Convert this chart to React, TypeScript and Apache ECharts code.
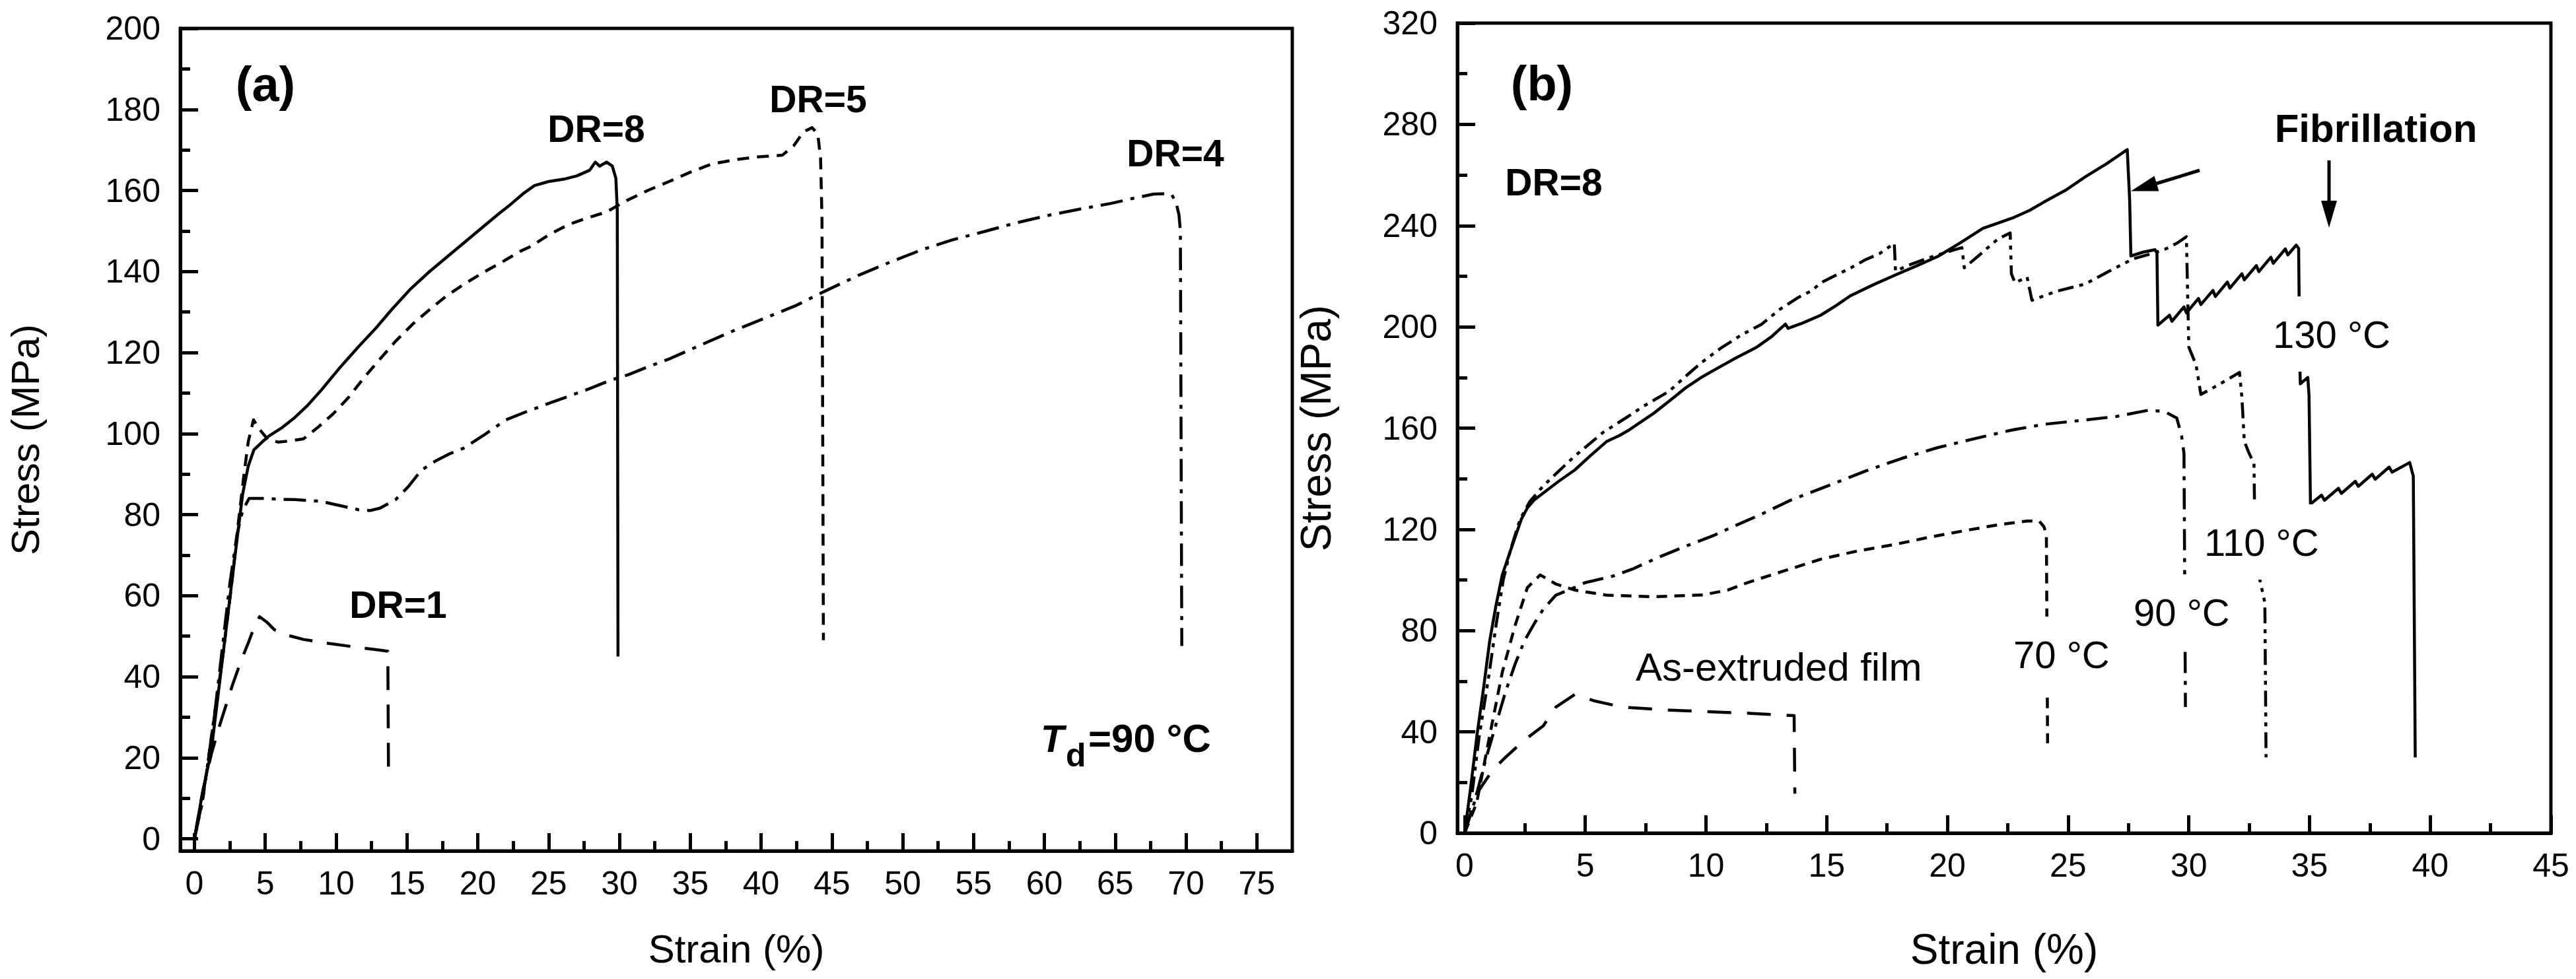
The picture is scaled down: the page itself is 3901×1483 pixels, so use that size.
import React, { useEffect, useRef } from "react";
import * as echarts from "echarts";

// ---------- Panel (a): Td = 90 °C, different draw ratios ----------
const aDR8Strain = [0, 0.5, 1.2, 2.07, 2.8, 3.4, 3.8, 4.2, 4.8, 5.3, 6.2, 7.1, 8.0, 8.9, 10.2, 11.6, 12.8, 13.9, 15.2, 16.6, 17.8, 19.0, 20.2, 21.4, 22.4, 23.2, 24.0, 25.0, 26.1, 27.0, 27.9, 28.3, 28.6, 29.1, 29.5, 29.75, 29.85, 29.9];
const aDR8Stress = [0, 10, 22, 47, 68, 85, 92, 96, 98, 99.5, 101.5, 104, 107, 110.5, 116, 121.5, 126, 130.5, 135.5, 140, 143.5, 147, 150.5, 154, 156.8, 159.2, 161.2, 162.2, 162.8, 163.6, 165, 167, 166, 167, 166, 163, 155, 45];

const aDR5Strain = [0, 0.6, 1.4, 2.0, 2.6, 3.1, 3.5, 3.8, 4.17, 4.6, 5.2, 5.9, 6.8, 7.7, 8.7, 9.8, 10.9, 11.9, 13.0, 14.2, 15.4, 16.6, 17.8, 19.0, 20.4, 21.7, 23.0, 23.75, 25.0, 26.4, 27.8, 29.1, 30.5, 32.0, 33.5, 35.0, 36.5, 38.0, 39.5, 41.5, 42.3, 43.0, 43.6, 44.0, 44.2, 44.3, 44.4];
const aDR5Stress = [0, 10, 30, 45, 62, 78, 90, 98, 103.4, 101, 98.5, 97.9, 98.2, 98.7, 101.5, 104.9, 109, 113.5, 118, 122.8, 127, 130.6, 134, 136.8, 139.8, 142.3, 145, 146.2, 149, 151.6, 153.3, 154.7, 157.5, 160, 162.2, 164.5, 166.5, 167.5, 168.2, 168.7, 171, 174.5, 175.5, 174, 168, 153, 49];

const aDR4Strain = [0, 0.5, 1.0, 1.5, 2.0, 2.5, 3.0, 3.4, 3.86, 5.0, 6.0, 7.1, 8.9, 10.3, 11.6, 12.4, 13.1, 14.2, 15.1, 16.0, 17.0, 18.0, 19.0, 20.5, 22.0, 23.5, 24.9, 26.4, 27.9, 29.4, 30.6, 32.1, 33.5, 35.7, 38.0, 40.2, 42.4, 44.6, 46.9, 49.1, 51.3, 53.5, 55.8, 58.0, 60.2, 62.5, 64.7, 66.2, 67.7, 68.5, 69.0, 69.3, 69.5, 69.6, 69.7];
const aDR4Stress = [0, 8, 20, 33, 48, 63, 75, 81, 84, 84, 83.8, 83.7, 83.3, 82.2, 81.2, 81, 81.6, 83.7, 86.9, 90.9, 93.2, 95, 96.4, 99.8, 103.4, 105.5, 107.3, 109.2, 111.1, 113.2, 114.5, 116.6, 118.4, 121.8, 125.3, 128.4, 131.5, 135.3, 139.1, 142.3, 145.3, 147.8, 149.9, 152, 153.8, 155.4, 156.8, 158, 159.1, 159.2, 158.9, 157, 154, 150, 47.6];

const aDR1Strain = [0, 0.6, 1.2, 1.78, 2.67, 3.3, 3.85, 4.3, 4.6, 5.1, 5.64, 6.6, 7.7, 9.5, 11.6, 12.8, 13.65, 13.7];
const aDR1Stress = [0, 12, 21, 28, 37.8, 44, 48.8, 53, 54.8, 53.5, 51.6, 50.2, 49.2, 48.2, 47.2, 46.7, 46.3, 15.4];

// ---------- Panel (b): DR = 8, different drawing temperatures ----------
const b130Strain = [0, 0.25, 0.51, 0.78, 1.04, 1.3, 1.56, 1.95, 2.35, 2.6, 2.87, 3.26, 3.9, 4.57, 5.2, 5.88, 6.4, 6.82, 7.84, 8.65, 9.14, 9.8, 10.48, 11.2, 12.07, 12.7, 13.29, 13.4, 14.0, 14.75, 15.4, 15.97, 16.9, 17.8, 18.7, 19.6, 20.5, 21.47, 22.1, 22.7, 23.4, 24.0, 24.9, 25.7, 26.6, 27.45, 27.55, 27.6, 28.1, 28.6, 28.68, 28.72,
  29.2, 29.3, 29.8, 29.9, 30.4, 30.5, 31.0, 31.1, 31.6, 31.7, 32.2, 32.3, 32.8, 32.9, 33.4, 33.5, 34.0, 34.1, 34.45, 34.55, 34.57, 34.6, 34.62, 34.93, 34.98, 35.04,
  35.5, 35.62, 36.2, 36.32, 36.9, 37.02, 37.6, 37.72, 38.3, 38.42, 39.15, 39.3, 39.38];
const b130Stress = [0, 18, 38.6, 57, 76, 90, 102, 113, 124, 128.5, 131.5, 134.4, 139, 143.5, 149, 154.7, 157, 159.3, 165.9, 172, 175.8, 180, 183.7, 187.5, 191.8, 196, 201.1, 199.4, 201.5, 204.6, 208.5, 212.2, 216.5, 220.3, 224, 227.8, 233, 238.9, 241, 243, 246, 249.3, 254, 259.2, 264.5, 270, 250, 228, 229.5, 230.5, 229.3, 200.7,
  204.6, 202.2, 207.9, 205.5, 211.2, 208.8, 214.4, 212, 217.7, 215.3, 221, 218.6, 224.2, 221.8, 227.5, 225.1, 230.8, 228.4, 232.3, 231, 211.5, 184.5, 177.5, 180, 172.8, 130,
  133.5, 131.5, 136.2, 134.2, 139, 137, 141.8, 139.8, 144.6, 142.6, 146.4, 141, 29.9];

const b110Strain = [0, 0.3, 0.6, 1.0, 1.3, 1.6, 1.9, 2.3, 2.7, 3.26, 3.9, 4.57, 5.2, 5.75, 6.79, 7.4, 8.48, 9.1, 9.8, 10.6, 11.5, 12.3, 13.07, 13.8, 14.4, 14.75, 15.4, 16.0, 16.6, 17.2, 17.8, 17.85, 18.4, 19.3, 20.2, 20.6, 20.7, 21.4, 22.1, 22.6, 22.65, 22.8, 23.3, 23.5, 24.5, 25.7, 26.7, 27.7, 28.3, 29.0, 29.5, 29.9, 30.0, 30.3, 30.5, 31.3, 32.1, 32.2, 32.3, 32.5, 32.7, 32.72, 32.9, 33.15, 33.2];
const b110Stress = [0, 15, 38, 62, 82, 100, 112, 124, 131, 137.2, 143, 149, 154, 158.4, 164.7, 168.6, 174.6, 180, 185.8, 191.5, 197, 201, 207, 211.5, 214.4, 217.4, 220.5, 223.3, 226.5, 229, 233, 222, 224.4, 227.5, 230.2, 231.3, 223.3, 229, 234.8, 237.1, 221, 217.4, 219.7, 210.5, 214, 216.9, 222, 226.9, 228.5, 230.6, 233, 235.6, 192, 185, 173.3, 177.5, 182, 172, 154.7, 150, 146, 131, 102, 91, 29.9];

const b90Strain = [0, 0.4, 0.9, 1.3, 1.7, 2.1, 2.48, 2.9, 3.26, 3.78, 4.57, 4.98, 6.13, 7.0, 8.04, 9.2, 10.3, 11.1, 12.3, 13.5, 15.0, 16.6, 18.1, 19.6, 21.2, 22.7, 24.1, 25.5, 27.0, 28.35, 29.0, 29.5, 29.7, 29.8, 29.86];
const b90Stress = [0, 12, 30, 43, 56, 67, 76, 83, 88.5, 94, 97.1, 98.9, 101.5, 104.5, 109, 113.5, 117.5, 121, 126, 131.5, 137, 143, 148, 152.3, 156, 159.3, 161.6, 163, 164.6, 167.1, 166.5, 164, 157, 150, 49.8];

const b70Strain = [0, 0.5, 1.04, 1.56, 2.09, 2.6, 3.13, 3.5, 3.78, 4.57, 5.88, 7.84, 9.87, 10.9, 11.7, 13.2, 14.75, 16.3, 17.8, 19.3, 20.9, 22.1, 23.3, 23.8, 24.0, 24.1, 24.15];
const b70Stress = [0, 12, 38.6, 63.5, 82, 97, 102, 100, 98.4, 96, 94, 93.4, 94.1, 96, 98.9, 103.5, 108.2, 111.5, 114, 117, 119.8, 121.8, 123.3, 123.3, 121, 118, 35.5];

const bExtStrain = [0, 0.5, 1.17, 1.7, 2.47, 3.26, 3.78, 4.57, 5.35, 6.53, 8.5, 10.2, 11.9, 13.65, 13.68];
const bExtStress = [0, 15.6, 25, 30, 36.7, 42.4, 49.8, 54.8, 52.3, 49.8, 48.6, 47.9, 47.3, 46.4, 15.6];

// ---------- Tick labels ----------
const aStrainTicks = [0, 5, 10, 15, 20, 25, 30, 35, 40, 45, 50, 55, 60, 65, 70, 75];
const aStrainMinor = [2.5, 7.5, 12.5, 17.5, 22.5, 27.5, 32.5, 37.5, 42.5, 47.5, 52.5, 57.5, 62.5, 67.5, 72.5];
const aStressTicks = [0, 20, 40, 60, 80, 100, 120, 140, 160, 180, 200];
const aStressMinor = [10, 30, 50, 70, 90, 110, 130, 150, 170, 190];
const bStrainTicks = [0, 5, 10, 15, 20, 25, 30, 35, 40, 45];
const bStrainMinor = [2.5, 7.5, 12.5, 17.5, 22.5, 27.5, 32.5, 37.5, 42.5];
const bStressTicks = [0, 40, 80, 120, 160, 200, 240, 280, 320];
const bStressMinor = [20, 60, 100, 140, 180, 220, 260, 300];

const FONT = '"Liberation Sans", Arial, Helvetica, sans-serif';

function pairs(xs: number[], ys: number[]) {
  return xs.map((x, i) => [x, ys[i]]);
}

function axis(dim: "x" | "y", gridIndex: number, min: number, max: number, ticks: number[], major: boolean, extra: any = {}) {
  return {
    type: "value",
    gridIndex,
    min,
    max,
    position: dim === "x" ? "bottom" : "left",
    axisLine: { show: major, onZero: false, lineStyle: { color: "#000", width: 5 } },
    axisTick: {
      show: true,
      inside: true,
      length: major ? 27 : 15,
      customValues: ticks,
      lineStyle: { color: "#000", width: 5 },
    },
    axisLabel: major
      ? { show: true, customValues: ticks, color: "#000", fontSize: 50, fontFamily: FONT, margin: dim === "x" ? 24 : 30 }
      : { show: false },
    splitLine: { show: false },
    minorTick: { show: false },
    ...extra,
  };
}

function line(data: number[][], xi: number, yi: number, type: any) {
  return {
    type: "line",
    xAxisIndex: xi,
    yAxisIndex: yi,
    data,
    showSymbol: false,
    symbol: "none",
    silent: true,
    z: 3,
    lineStyle: { color: "#000", width: 4.5, type, cap: "butt", join: "round" },
  };
}

function txt(text: string, x: number, y: number, size: number, opts: any = {}) {
  return {
    type: "text",
    x,
    y,
    z: 100,
    style: {
      text,
      fill: "#000",
      fontSize: size,
      fontFamily: FONT,
      fontWeight: opts.bold ? "bold" : "normal",
      fontStyle: opts.italic ? "italic" : "normal",
      align: opts.align || "center",
      verticalAlign: "middle",
      ...(opts.bg ? { backgroundColor: "#fff", padding: [28, 4] } : {}),
    },
  };
}

export default function App() {
  const ref = useRef<HTMLDivElement>(null);
  useEffect(() => {
    document.body.style.margin = "0";
    const chart = echarts.init(ref.current!, undefined, { renderer: "svg" });
    const option: any = {
      animation: false,
      backgroundColor: "#fff",
      textStyle: { fontFamily: FONT, color: "#000" },
      grid: [
        { left: 273, top: 43, width: 1684, height: 1246, show: true, borderColor: "#000", borderWidth: 5, backgroundColor: "transparent" },
        { left: 2207, top: 35, width: 1656, height: 1227, show: true, borderColor: "#000", borderWidth: 5, backgroundColor: "transparent" },
      ],
      xAxis: [
        axis("x", 0, -1, 77.5, aStrainTicks, true, {
          name: "Strain (%)", nameLocation: "middle", nameGap: 118,
          nameTextStyle: { fontSize: 60, color: "#000", fontFamily: FONT },
        }),
        axis("x", 0, -1, 77.5, aStrainMinor, false),
        axis("x", 1, -0.3, 45, bStrainTicks, true, {
          name: "Strain (%)", nameLocation: "middle", nameGap: 144,
          nameTextStyle: { fontSize: 64, color: "#000", fontFamily: FONT },
        }),
        axis("x", 1, -0.3, 45, bStrainMinor, false),
      ],
      yAxis: [
        axis("y", 0, -3, 200, aStressTicks, true, {
          name: "Stress (MPa)", nameLocation: "middle", nameGap: 205,
          nameTextStyle: { fontSize: 60, color: "#000", fontFamily: FONT },
        }),
        axis("y", 0, -3, 200, aStressMinor, false),
        axis("y", 1, 0, 320, bStressTicks, true, {
          name: "Stress (MPa)", nameLocation: "middle", nameGap: 182,
          nameTextStyle: { fontSize: 64, color: "#000", fontFamily: FONT },
        }),
        axis("y", 1, 0, 320, bStressMinor, false),
      ],
      series: [
        line(pairs(aDR8Strain, aDR8Stress), 0, 0, "solid"),
        line(pairs(aDR5Strain, aDR5Stress), 0, 0, [18, 12]),
        line(pairs(aDR4Strain, aDR4Stress), 0, 0, [34, 12, 6, 12]),
        line(pairs(aDR1Strain, aDR1Stress), 0, 0, [36, 22]),
        line(pairs(b130Strain, b130Stress), 2, 2, "solid"),
        line(pairs(b110Strain, b110Stress), 2, 2, [24, 9, 6, 9, 6, 9]),
        line(pairs(b90Strain, b90Stress), 2, 2, [32, 12, 6, 12]),
        line(pairs(b70Strain, b70Stress), 2, 2, [16, 11]),
        line(pairs(bExtStrain, bExtStress), 2, 2, [36, 24]),
      ],
      graphic: [
        // panel (a)
        txt("(a)", 402, 127, 74, { bold: true }),
        txt("DR=8", 903, 195, 57, { bold: true }),
        txt("DR=5", 1239, 150, 57, { bold: true }),
        txt("DR=4", 1780, 232, 57, { bold: true }),
        txt("DR=1", 603, 916, 57, { bold: true }),
        txt("T", 1576, 1118, 58, { bold: true, italic: true, align: "left" }),
        txt("d", 1614, 1144, 50, { bold: true, align: "left" }),
        txt("=90 °C", 1648, 1118, 60, { bold: true, align: "left" }),
        // panel (b)
        txt("(b)", 2335, 126, 74, { bold: true }),
        txt("DR=8", 2353, 276, 57, { bold: true }),
        txt("Fibrillation", 3598, 194, 60, { bold: true }),
        txt("130 °C", 3438, 506, 58, { align: "left", bg: true }),
        txt("110 °C", 3334, 821, 58, { align: "left", bg: true }),
        txt("90 °C", 3227, 927, 58, { align: "left", bg: true }),
        txt("70 °C", 3045, 991, 58, { align: "left", bg: true }),
        txt("As-extruded film", 2477, 1010, 60, { align: "left" }),
        // arrows
        { type: "line", z: 100, shape: { x1: 3527, y1: 243, x2: 3527, y2: 310 }, style: { stroke: "#000", lineWidth: 5 } },
        { type: "polygon", z: 100, shape: { points: [[3515, 304], [3539, 304], [3527, 345]] }, style: { fill: "#000" } },
        { type: "line", z: 100, shape: { x1: 3331, y1: 258, x2: 3264, y2: 278.5 }, style: { stroke: "#000", lineWidth: 5 } },
        { type: "polygon", z: 100, shape: { points: [[3269.4, 289.5], [3262.5, 266.5], [3227, 289.5]] }, style: { fill: "#000" } },
      ],
    };
    chart.setOption(option);
    return () => chart.dispose();
  }, []);
  return <div ref={ref} style={{ width: 3901, height: 1483 }} />;
}
